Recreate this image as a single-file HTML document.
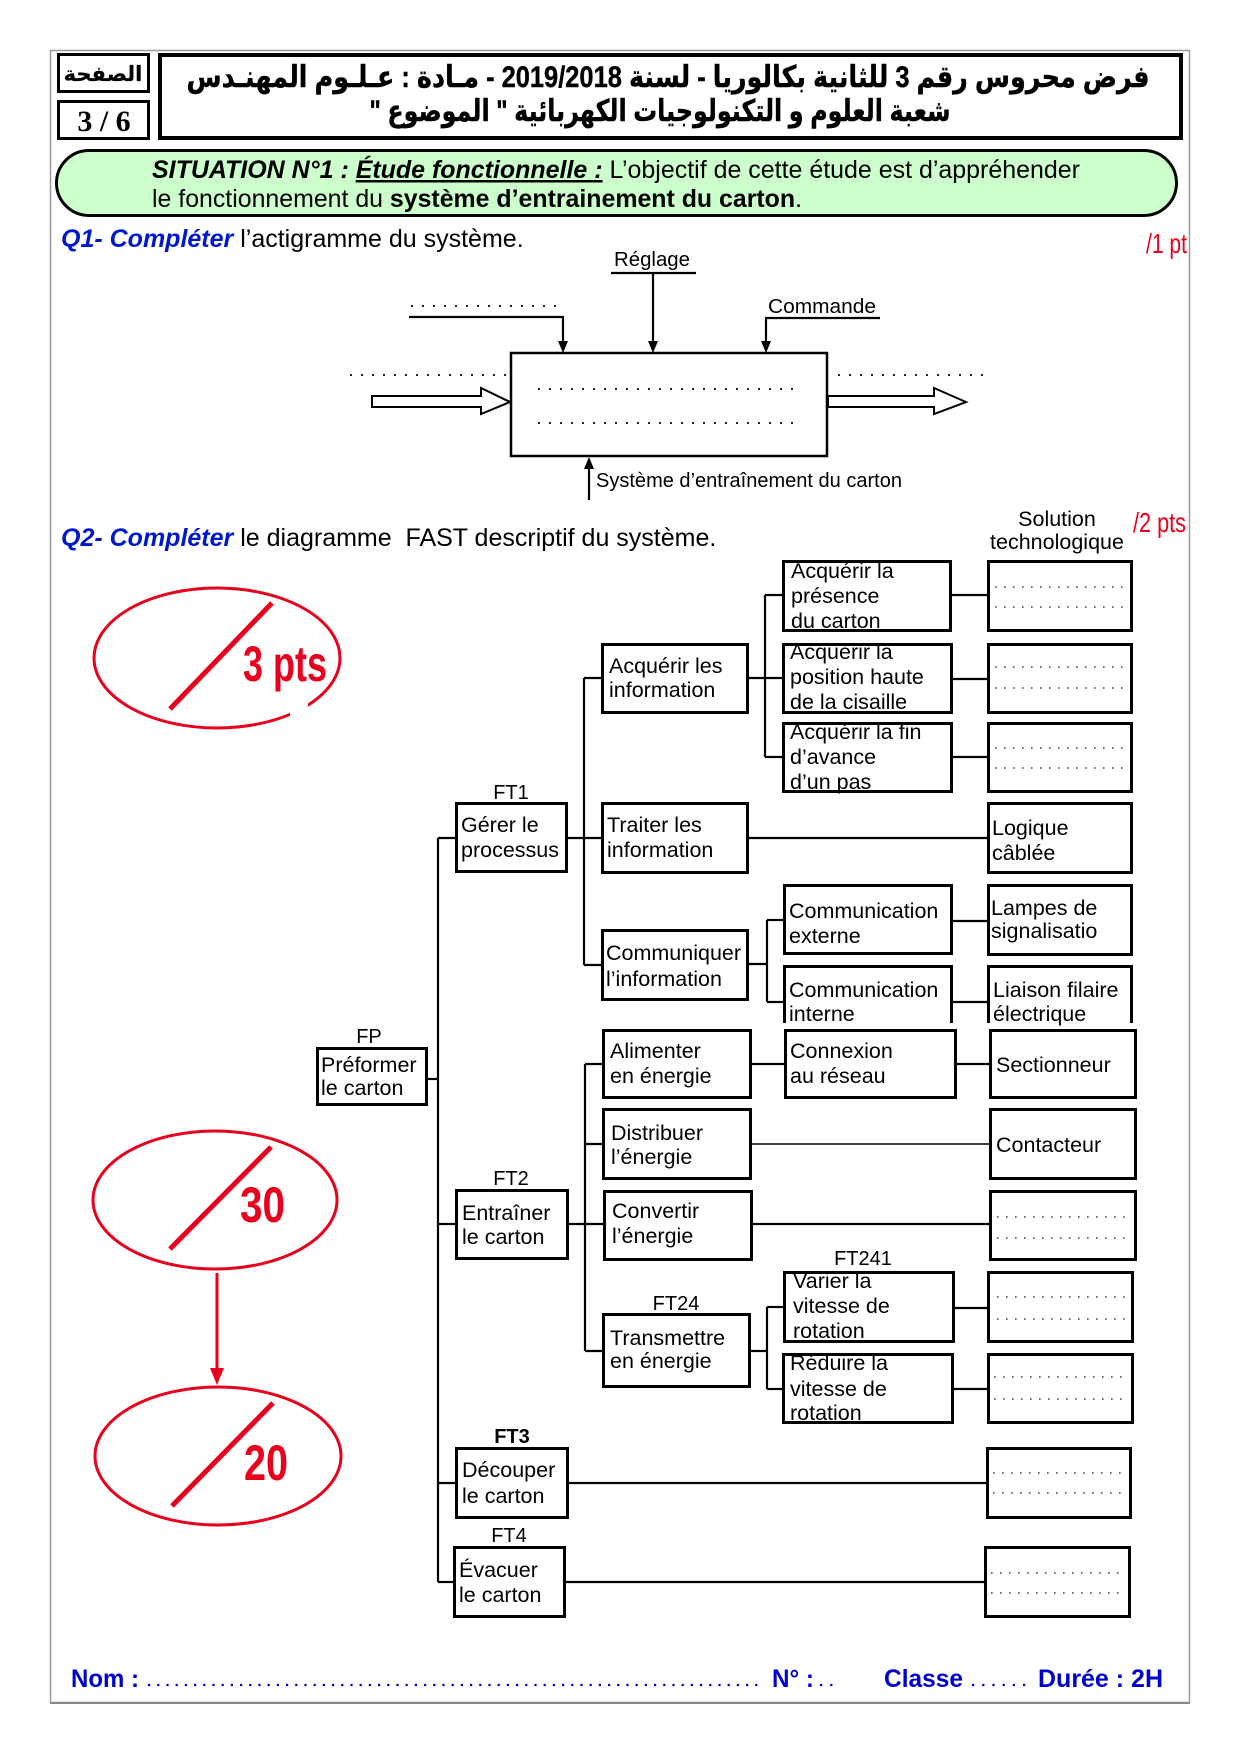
<!DOCTYPE html>
<html>
<head>
<meta charset="utf-8">
<style>
html,body{margin:0;padding:0;background:#fff;}
svg{display:block;}
.t{font-family:"Liberation Sans","DejaVu Sans",sans-serif;font-size:21.5px;fill:#000;}
.lb{font-family:"Liberation Sans",sans-serif;font-size:20px;fill:#000;text-anchor:middle;}
.ar{font-family:"Liberation Sans","DejaVu Sans",sans-serif;font-weight:bold;font-size:30px;fill:#000;text-anchor:middle;stroke:#000;stroke-width:0.4;}
.q{font-family:"Liberation Sans",sans-serif;font-size:25px;fill:#000;}
.blue{fill:#0018cc;font-weight:bold;font-style:italic;}
.red{font-family:"Liberation Sans Narrow","Liberation Sans",sans-serif;fill:#e8001c;}
.box{fill:#fff;stroke:#000;stroke-width:3;}
.ln{stroke:#000;stroke-width:2.2;fill:none;}
.dots{stroke:#444;stroke-width:1.6;stroke-dasharray:1.6 7.4;fill:none;}
.adots{stroke:#222;stroke-width:2;stroke-dasharray:2 9;fill:none;}
.bot{font-family:"Liberation Sans Narrow","Liberation Sans",sans-serif;font-weight:bold;font-size:25px;fill:#0000cc;}
</style>
</head>
<body>
<svg width="1240" height="1754" viewBox="0 0 1240 1754" xmlns="http://www.w3.org/2000/svg">
<rect x="0" y="0" width="1240" height="1754" fill="#fff"/>
<!-- page border -->
<rect x="50.5" y="50.5" width="1139" height="1652" fill="none" stroke="#999" stroke-width="1.5"/>
<line x1="50" y1="1703" x2="1190" y2="1703" stroke="#888" stroke-width="2"/>

<!-- header -->
<rect x="58.5" y="54.5" width="90" height="37" fill="#fff" stroke="#000" stroke-width="3"/>
<text class="ar" x="103" y="81" style="font-size:21px;stroke-width:0.2" direction="rtl">الصفحة</text>
<rect x="58.5" y="101.5" width="90" height="37" fill="#fff" stroke="#000" stroke-width="3"/>
<text x="104" y="131" text-anchor="middle" style="font-family:'Liberation Serif',serif;font-weight:bold;font-size:30px;">3 / 6</text>
<rect x="160" y="55" width="1021" height="83" fill="#fff" stroke="#000" stroke-width="4"/>
<text class="ar" x="668" y="87" direction="rtl" textLength="963" lengthAdjust="spacingAndGlyphs">فرض محروس رقم 3 للثانية بكالوريا - لسنة 2019/2018 - مـادة : عـلـوم المهنـدس</text>
<text class="ar" x="660" y="121" direction="rtl" textLength="581" lengthAdjust="spacingAndGlyphs">شعبة العلوم و التكنولوجيات الكهربائية " الموضوع "</text>

<!-- green situation box -->
<rect x="56.5" y="150.5" width="1120" height="65" rx="32.5" ry="32.5" fill="#ccffcc" stroke="#000" stroke-width="3"/>
<text class="q" x="152" y="178" textLength="928" lengthAdjust="spacingAndGlyphs"><tspan style="font-weight:bold;font-style:italic;">SITUATION N°1 : </tspan><tspan style="font-weight:bold;font-style:italic;text-decoration:underline;">Étude fonctionnelle :</tspan><tspan> L’objectif de cette étude est d’appréhender</tspan></text>
<text class="q" x="152" y="207" textLength="650" lengthAdjust="spacingAndGlyphs"><tspan>le fonctionnement du </tspan><tspan style="font-weight:bold;">système d’entrainement du carton</tspan><tspan>.</tspan></text>

<!-- Q1 -->
<text class="q" x="61" y="247"><tspan class="blue">Q1- Compléter</tspan><tspan> l’actigramme du système.</tspan></text>
<text class="red" x="1146" y="253" style="font-size:28px" textLength="41" lengthAdjust="spacingAndGlyphs">/1 pt</text>

<!-- actigramme -->
<text class="t" x="614" y="266" style="font-size:20px" textLength="76" lengthAdjust="spacingAndGlyphs">Réglage</text>
<line class="ln" x1="611" y1="273" x2="696" y2="273"/>
<line class="ln" x1="653" y1="273" x2="653" y2="343"/>
<polygon points="648,341 658,341 653,353" fill="#000"/>
<line class="adots" x1="411" y1="306" x2="565" y2="306"/>
<polyline class="ln" points="409,317 563,317 563,343"/>
<polygon points="558,341 568,341 563,353" fill="#000"/>
<text class="t" x="768" y="313" style="font-size:20px" textLength="108" lengthAdjust="spacingAndGlyphs">Commande</text>
<polyline class="ln" points="880,318 766,318 766,343"/>
<polygon points="761,341 771,341 766,353" fill="#000"/>
<rect x="511" y="353" width="316" height="103" fill="#fff" stroke="#000" stroke-width="2.5"/>
<line class="adots" x1="350" y1="375" x2="508" y2="375"/>
<line class="adots" x1="838" y1="375" x2="992" y2="375"/>
<line class="adots" x1="538" y1="389" x2="796" y2="389"/>
<line class="adots" x1="538" y1="423" x2="796" y2="423"/>
<polygon points="372,396 481,396 481,388 510,402 481,414 481,407 372,407" fill="#fff" stroke="#000" stroke-width="2"/>
<polygon points="828,396 934,396 934,388 966,402 934,414 934,407 828,407" fill="#fff" stroke="#000" stroke-width="2"/>
<line class="ln" x1="589" y1="500" x2="589" y2="467"/>
<polygon points="584,469 594,469 589,457" fill="#000"/>
<text class="t" x="596" y="487" style="font-size:20px" textLength="306" lengthAdjust="spacingAndGlyphs">Système d’entraînement du carton</text>

<!-- Q2 -->
<text class="q" x="61" y="546"><tspan class="blue">Q2- Compléter</tspan><tspan> le diagramme&#160; FAST descriptif du système.</tspan></text>
<text class="t" x="1057" y="526" text-anchor="middle">Solution</text>
<text class="t" x="1057" y="549" text-anchor="middle">technologique</text>
<text class="red" x="1133" y="532" style="font-size:28px" textLength="53" lengthAdjust="spacingAndGlyphs">/2 pts</text>

<!-- red ellipses -->
<g fill="none" stroke="#e8001c" stroke-width="3">
<ellipse cx="217" cy="658" rx="123" ry="70"/>
<ellipse cx="215" cy="1200" rx="122" ry="69"/>
<ellipse cx="218" cy="1456" rx="123" ry="69"/>
</g>
<g stroke="#e8001c" stroke-width="5">
<line x1="170" y1="709" x2="272" y2="603"/>
<line x1="170" y1="1249" x2="271" y2="1147"/>
<line x1="172" y1="1506" x2="273" y2="1403"/>
</g>
<rect x="290" y="700" width="18" height="16" fill="#fff"/>
<text class="red" x="243" y="681" style="font-size:50px;font-weight:bold" textLength="84" lengthAdjust="spacingAndGlyphs">3 pts</text>
<text class="red" x="240" y="1222" style="font-size:50px;font-weight:bold" textLength="45" lengthAdjust="spacingAndGlyphs">30</text>
<text class="red" x="244" y="1480" style="font-size:50px;font-weight:bold" textLength="44" lengthAdjust="spacingAndGlyphs">20</text>
<line x1="217" y1="1273" x2="217" y2="1372" stroke="#e8001c" stroke-width="3"/>
<polygon points="210,1368 224,1368 217,1385" fill="#e8001c"/>

<!-- FAST connectors -->
<g class="ln">
<line x1="438" y1="838" x2="438" y2="1582"/>
<line x1="438" y1="838" x2="455" y2="838"/>
<line x1="428" y1="1079" x2="438" y2="1079"/>
<line x1="438" y1="1224" x2="455" y2="1224"/>
<line x1="438" y1="1483" x2="455" y2="1483"/>
<line x1="438" y1="1582" x2="453" y2="1582"/>
<line x1="568" y1="838" x2="601" y2="838"/>
<line x1="584" y1="678" x2="584" y2="965"/>
<line x1="584" y1="678" x2="601" y2="678"/>
<line x1="584" y1="965" x2="601" y2="965"/>
<line x1="749" y1="678" x2="782" y2="678"/>
<line x1="765" y1="595" x2="765" y2="757"/>
<line x1="765" y1="595" x2="782" y2="595"/>
<line x1="765" y1="757" x2="782" y2="757"/>
<line x1="952" y1="595" x2="987" y2="595"/>
<line x1="953" y1="679" x2="987" y2="679"/>
<line x1="953" y1="757" x2="987" y2="757"/>
<line x1="749" y1="838" x2="987" y2="838"/>
<line x1="749" y1="964" x2="767" y2="964"/>
<line x1="767" y1="920" x2="767" y2="1002"/>
<line x1="767" y1="920" x2="783" y2="920"/>
<line x1="767" y1="1002" x2="783" y2="1002"/>
<line x1="953" y1="921" x2="987" y2="921"/>
<line x1="953" y1="1002" x2="987" y2="1002"/>
<line x1="585" y1="1064" x2="585" y2="1351"/>
<line x1="585" y1="1064" x2="602" y2="1064"/>
<line x1="585" y1="1144" x2="602" y2="1144"/>
<line x1="569" y1="1224" x2="603" y2="1224"/>
<line x1="585" y1="1351" x2="602" y2="1351"/>
<line x1="752" y1="1064" x2="784" y2="1064"/>
<line x1="957" y1="1064" x2="989" y2="1064"/>
<line x1="752" y1="1144" x2="989" y2="1144" style="stroke-width:1.5"/>
<line x1="753" y1="1224" x2="989" y2="1224"/>
<line x1="751" y1="1351" x2="767" y2="1351"/>
<line x1="767" y1="1307" x2="767" y2="1389"/>
<line x1="767" y1="1307" x2="783" y2="1307"/>
<line x1="767" y1="1389" x2="782" y2="1389"/>
<line x1="955" y1="1308" x2="987" y2="1308"/>
<line x1="954" y1="1389" x2="987" y2="1389"/>
<line x1="569" y1="1483" x2="986" y2="1483"/>
<line x1="566" y1="1582" x2="984" y2="1582"/>
</g>

<!-- FAST boxes -->
<g class="box">
<rect x="317.5" y="1048.5" width="109" height="56"/>
<rect x="456.5" y="803.5" width="110" height="68"/>
<rect x="456.5" y="1190.5" width="111" height="68"/>
<rect x="456.5" y="1448.5" width="111" height="69"/>
<rect x="454.5" y="1547.5" width="110" height="69"/>
<rect x="602.5" y="644.5" width="145" height="68"/>
<rect x="602.5" y="803.5" width="145" height="69"/>
<rect x="602.5" y="930.5" width="145" height="69"/>
<rect x="603.5" y="1030.5" width="147" height="67"/>
<rect x="603.5" y="1109.5" width="147" height="69"/>
<rect x="604.5" y="1191.5" width="147" height="68"/>
<rect x="603.5" y="1314.5" width="146" height="72"/>
<rect x="783.5" y="561.5" width="167" height="69"/>
<rect x="783.5" y="644.5" width="168" height="68"/>
<rect x="783.5" y="723.5" width="168" height="68"/>
<rect x="784.5" y="885.5" width="167" height="68"/>
<rect x="785.5" y="1030.5" width="170" height="67"/>
<rect x="784.5" y="1272.5" width="169" height="69"/>
<rect x="783.5" y="1354.5" width="169" height="68"/>
<rect x="988.5" y="561.5" width="143" height="69"/>
<rect x="988.5" y="644.5" width="143" height="68"/>
<rect x="988.5" y="723.5" width="143" height="68"/>
<rect x="988.5" y="803.5" width="143" height="69"/>
<rect x="988.5" y="885.5" width="143" height="69"/>
<rect x="990.5" y="1030.5" width="145" height="67"/>
<rect x="990.5" y="1109.5" width="145" height="69"/>
<rect x="990.5" y="1191.5" width="145" height="68"/>
<rect x="988.5" y="1272.5" width="144" height="69"/>
<rect x="988.5" y="1354.5" width="144" height="68"/>
<rect x="987.5" y="1448.5" width="143" height="69"/>
<rect x="985.5" y="1547.5" width="144" height="69"/>
</g>
<!-- open-bottom boxes (clipped) -->
<polyline points="784.5,1023 784.5,966.5 951.5,966.5 951.5,1023" fill="#fff" stroke="#000" stroke-width="3"/>
<polyline points="988.5,1023 988.5,966.5 1131.5,966.5 1131.5,1023" fill="#fff" stroke="#000" stroke-width="3"/>

<!-- dotted placeholders -->
<g class="dots">
<line x1="995" y1="587" x2="1127" y2="587"/><line x1="995" y1="607" x2="1127" y2="607"/>
<line x1="995" y1="667" x2="1127" y2="667"/><line x1="995" y1="688" x2="1127" y2="688"/>
<line x1="995" y1="748" x2="1127" y2="748"/><line x1="995" y1="768" x2="1127" y2="768"/>
<line x1="997" y1="1217" x2="1130" y2="1217"/><line x1="997" y1="1238" x2="1130" y2="1238"/>
<line x1="997" y1="1297" x2="1127" y2="1297"/><line x1="997" y1="1319" x2="1127" y2="1319"/>
<line x1="994" y1="1377" x2="1127" y2="1377"/><line x1="994" y1="1399" x2="1127" y2="1399"/>
<line x1="993" y1="1473" x2="1125" y2="1473"/><line x1="993" y1="1493" x2="1125" y2="1493"/>
<line x1="991" y1="1573" x2="1124" y2="1573"/><line x1="991" y1="1593" x2="1124" y2="1593"/>
</g>

<!-- labels -->
<text class="lb" x="369" y="1043">FP</text>
<text class="lb" x="511" y="799">FT1</text>
<text class="lb" x="511" y="1185">FT2</text>
<text class="lb" x="512" y="1443" style="font-weight:bold">FT3</text>
<text class="lb" x="509" y="1542">FT4</text>
<text class="lb" x="676" y="1310">FT24</text>
<text class="lb" x="863" y="1265">FT241</text>

<!-- box texts -->
<text class="t" x="321" y="1072">Préformer</text>
<text class="t" x="321" y="1095">le carton</text>
<text class="t" x="461" y="832">Gérer le</text>
<text class="t" x="461" y="857">processus</text>
<text class="t" x="462" y="1220">Entraîner</text>
<text class="t" x="462" y="1244">le carton</text>
<text class="t" x="462" y="1477">Découper</text>
<text class="t" x="462" y="1503">le carton</text>
<text class="t" x="459" y="1577">Évacuer</text>
<text class="t" x="459" y="1602">le carton</text>

<text class="t" x="609" y="673">Acquérir les</text>
<text class="t" x="609" y="697">information</text>
<text class="t" x="607" y="832">Traiter les</text>
<text class="t" x="607" y="857">information</text>
<text class="t" x="606" y="960">Communiquer</text>
<text class="t" x="606" y="986">l’information</text>
<text class="t" x="610" y="1058">Alimenter</text>
<text class="t" x="610" y="1083">en énergie</text>
<text class="t" x="611" y="1140">Distribuer</text>
<text class="t" x="611" y="1164">l’énergie</text>
<text class="t" x="612" y="1218">Convertir</text>
<text class="t" x="612" y="1243">l’énergie</text>
<text class="t" x="610" y="1345">Transmettre</text>
<text class="t" x="610" y="1368">en énergie</text>

<text class="t" x="791" y="578">Acquérir la</text>
<text class="t" x="791" y="603">présence</text>
<text class="t" x="791" y="628">du carton</text>
<text class="t" x="790" y="659">Acquérir la</text>
<text class="t" x="790" y="684">position haute</text>
<text class="t" x="790" y="709">de la cisaille</text>
<text class="t" x="790" y="739">Acquérir la fin</text>
<text class="t" x="790" y="764">d’avance</text>
<text class="t" x="790" y="789">d’un pas</text>
<text class="t" x="789" y="918">Communication</text>
<text class="t" x="789" y="943">externe</text>
<text class="t" x="789" y="997">Communication</text>
<text class="t" x="789" y="1021">interne</text>
<text class="t" x="790" y="1058">Connexion</text>
<text class="t" x="790" y="1083">au réseau</text>
<text class="t" x="793" y="1288">Varier la</text>
<text class="t" x="793" y="1313">vitesse de</text>
<text class="t" x="793" y="1338">rotation</text>
<text class="t" x="790" y="1370">Réduire la</text>
<text class="t" x="790" y="1396">vitesse de</text>
<text class="t" x="790" y="1420">rotation</text>

<text class="t" x="992" y="835">Logique</text>
<text class="t" x="992" y="860">câblée</text>
<text class="t" x="991" y="915">Lampes de</text>
<text class="t" x="991" y="938">signalisatio</text>
<text class="t" x="993" y="997">Liaison filaire</text>
<text class="t" x="993" y="1021">électrique</text>
<text class="t" x="996" y="1072">Sectionneur</text>
<text class="t" x="996" y="1152">Contacteur</text>

<!-- bottom line -->
<text class="bot" x="71" y="1687" textLength="68" lengthAdjust="spacingAndGlyphs">Nom :</text>
<line x1="148" y1="1685" x2="758" y2="1685" stroke="#0000cc" stroke-width="2.2" stroke-dasharray="2.2 7"/>
<text class="bot" x="772" y="1687" textLength="42" lengthAdjust="spacingAndGlyphs">N° :</text>
<line x1="820" y1="1685" x2="840" y2="1685" stroke="#0000cc" stroke-width="2.2" stroke-dasharray="2.2 8"/>
<text class="bot" x="884" y="1687" textLength="79" lengthAdjust="spacingAndGlyphs">Classe</text>
<line x1="972" y1="1685" x2="1026" y2="1685" stroke="#0000cc" stroke-width="2.2" stroke-dasharray="2.2 8"/>
<text class="bot" x="1038" y="1687" textLength="125" lengthAdjust="spacingAndGlyphs">Durée : 2H</text>
</svg>
</body>
</html>
